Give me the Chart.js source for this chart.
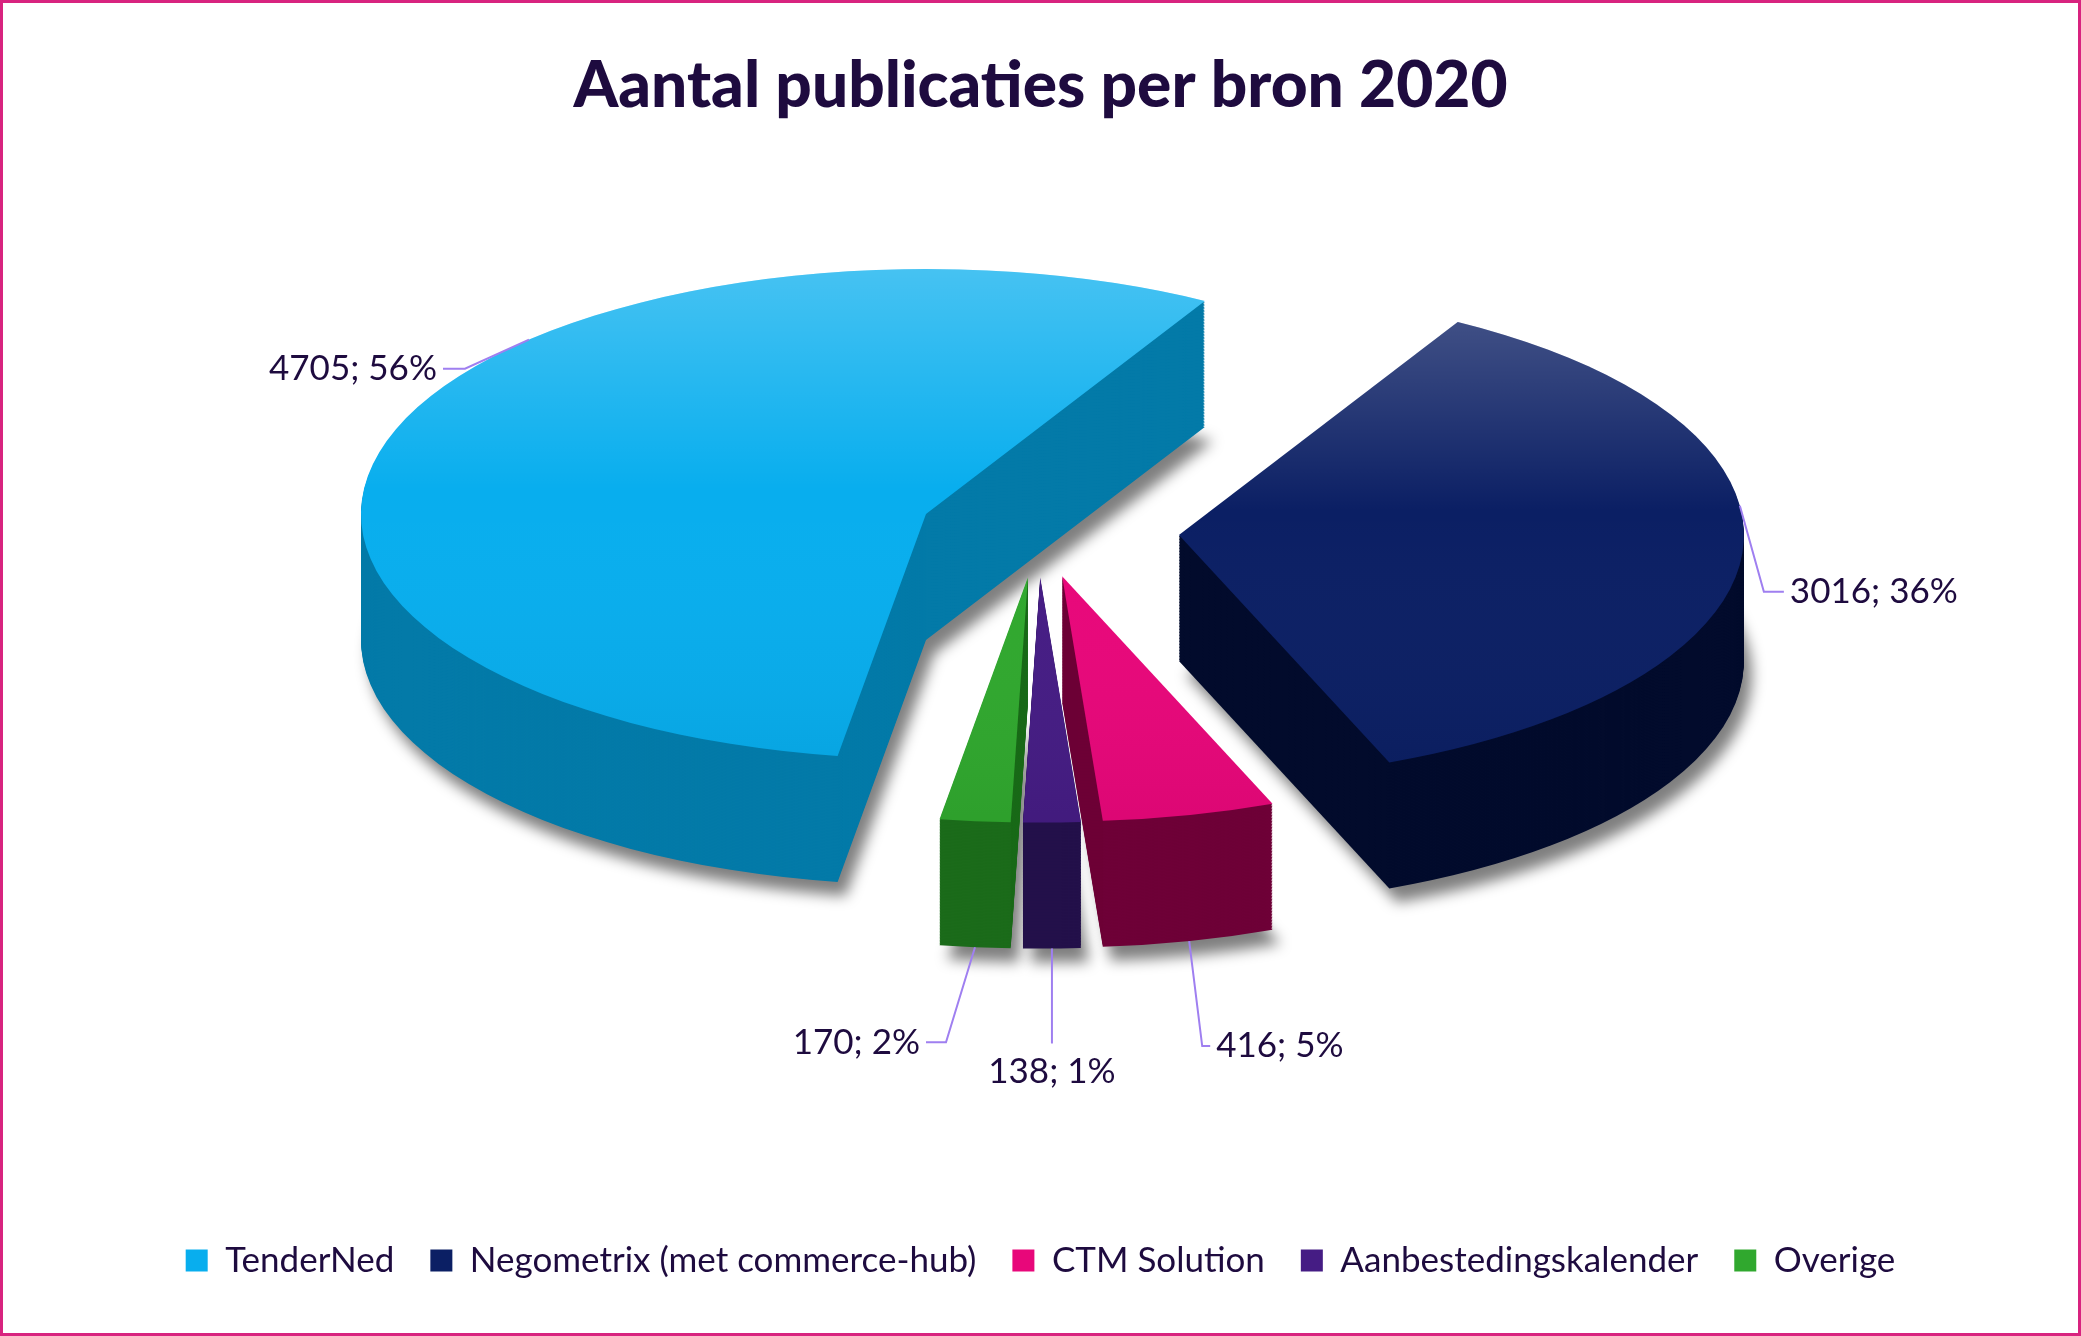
<!DOCTYPE html>
<html><head><meta charset="utf-8">
<script src="https://cdn.jsdelivr.net/npm/chart.js@4"></script>
<style>
html,body{margin:0;padding:0;background:#fff;}
#wrap{width:2081px;height:1336px;box-sizing:border-box;border:3px solid #d8237f;position:relative;}
canvas{display:block;}
</style></head><body>
<div id="wrap"><canvas id="c" width="2075" height="1330"></canvas></div>
<script>
const categories = ["TenderNed","Negometrix (met commerce-hub)","CTM Solution","Aanbestedingskalender","Overige"];
const values = [4705, 3016, 416, 138, 170];
const percents = ["56%","36%","5%","1%","2%"];
const topColors = ["#08aeee","#0b1f64","#e8077a","#451c84","#30a82e"];
const sideColors = ["#037aa8","#020b2c","#6e0037","#23104a","#1b6b1a"];
const explode = [0.21, 0.25, 0.19, 0.19, 0.19]; // fraction of radius

const TX = 1035, TY = 528, RX = 565, RY = 245, DEPTH = 126;
let geo = null;

function sliceGeom(a,i){
  const mid=(a.startAngle+a.endAngle)/2;
  const o=explode[i]*a.outerRadius;
  return {mid, cx:a.x+Math.cos(mid)*o, cy:a.y+Math.sin(mid)*o};
}
function slicePath(ctx,a,i){
  const g=sliceGeom(a,i);
  ctx.beginPath();ctx.moveTo(g.cx,g.cy);
  ctx.arc(g.cx,g.cy,a.outerRadius,a.startAngle,a.endAngle);
  ctx.closePath();
}
function setT(ctx,ox,oy){
  ctx.translate(TX+ox,TY+oy);ctx.scale(geo.sx,geo.sy);ctx.translate(-geo.x,-geo.y);
}

const pie3d = {
  id:'pie3d',
  beforeDatasetsDraw(chart){
    const ctx=chart.ctx, meta=chart.getDatasetMeta(0);
    const a0=meta.data[0], r=a0.outerRadius;
    geo={x:a0.x,y:a0.y,sx:RX/r,sy:RY/r,r};
    // shadow
    ctx.save();setT(ctx,8,DEPTH+14);ctx.filter='blur(7px)';
    meta.data.forEach((a,i)=>{slicePath(ctx,a,i);ctx.fillStyle='rgba(0,0,0,0.5)';ctx.fill();});
    ctx.restore();
    // sides, back slices first
    const order=[1,0,2,3,4];
    for(let k=DEPTH;k>0;k-=1.5){
      ctx.save();setT(ctx,0,k);
      order.forEach(i=>{const a=meta.data[i];slicePath(ctx,a,i);ctx.fillStyle=sideColors[i];ctx.fill();});
      ctx.restore();
    }
    // tops
    ctx.save();setT(ctx,0,0);
    meta.data.forEach((a,i)=>{
      slicePath(ctx,a,i);
      const g=sliceGeom(a,i);
      const grad=ctx.createLinearGradient(0,g.cy-a.outerRadius,0,g.cy+a.outerRadius);
      grad.addColorStop(0,'rgba(255,255,255,0.25)');grad.addColorStop(0.45,'rgba(255,255,255,0)');grad.addColorStop(1,'rgba(0,0,0,0.05)');
      ctx.fillStyle=topColors[i];ctx.fill();ctx.fillStyle=grad;ctx.fill();
    });
    ctx.restore();
    return false;
  },
  afterDraw(chart){
    const ctx=chart.ctx, meta=chart.getDatasetMeta(0);
    ctx.save();
    ctx.font='35px Lato, "Open Sans", sans-serif';
    ctx.fillStyle='#1e0b3f';ctx.strokeStyle='#9f7ff0';ctx.lineWidth=2;
    const lab=[ {ang:-2.35, dx:-64,dy:29, hx:-22, side:'left', bottom:false},
                {ang:-0.12, dx:24,dy:86, hx:20, side:'right', bottom:false},
                {ang:null, dx:13,dy:105, hx:8, side:'right', bottom:true},
                {ang:null, dx:0,dy:95, hx:0, side:'center', bottom:true},
                {ang:null, dx:-29,dy:95, hx:-20, side:'left', bottom:true} ];
    meta.data.forEach((a,i)=>{
      const L=lab[i], g=sliceGeom(a,i);
      const ang=L.ang!==null?L.ang:g.mid;
      const px=g.cx+Math.cos(ang)*a.outerRadius, py=g.cy+Math.sin(ang)*a.outerRadius;
      const X=TX+(px-geo.x)*geo.sx, Y=TY+(py-geo.y)*geo.sy+(L.bottom?DEPTH:0);
      const ex=X+L.dx, ey=Y+L.dy;
      ctx.beginPath();ctx.moveTo(X,Y);ctx.lineTo(ex,ey);ctx.lineTo(ex+L.hx,ey);ctx.stroke();
      const t=values[i]+'; '+percents[i];
      ctx.textBaseline='middle';
      if(L.side==='left'){ctx.textAlign='right';ctx.fillText(t,ex+L.hx-6,ey);}
      else if(L.side==='right'){ctx.textAlign='left';ctx.fillText(t,ex+L.hx+6,ey);}
      else {ctx.textAlign='center';ctx.fillText(t,ex,ey+28);}
    });
    ctx.restore();
  }
};

new Chart(document.getElementById('c'),{
  type:'pie',
  data:{labels:categories,datasets:[{data:values,backgroundColor:topColors,borderWidth:0}]},
  options:{
    responsive:false,animation:false,events:[],
    rotation:-171,
    layout:{padding:{top:0,bottom:45,left:20,right:20}},
    plugins:{
      tooltip:{enabled:false},
      title:{display:true,text:'Aantal publicaties per bron 2020',color:'#1e0b3f',
        font:{family:'Lato, "Open Sans", sans-serif',size:64,weight:'900'},padding:{top:45,bottom:30}},
      legend:{position:'bottom',labels:{color:'#1e0b3f',boxWidth:22,boxHeight:22,padding:36,
        font:{family:'Lato, "Open Sans", sans-serif',size:35}}}
    }
  },
  plugins:[pie3d]
});
</script></body></html>
